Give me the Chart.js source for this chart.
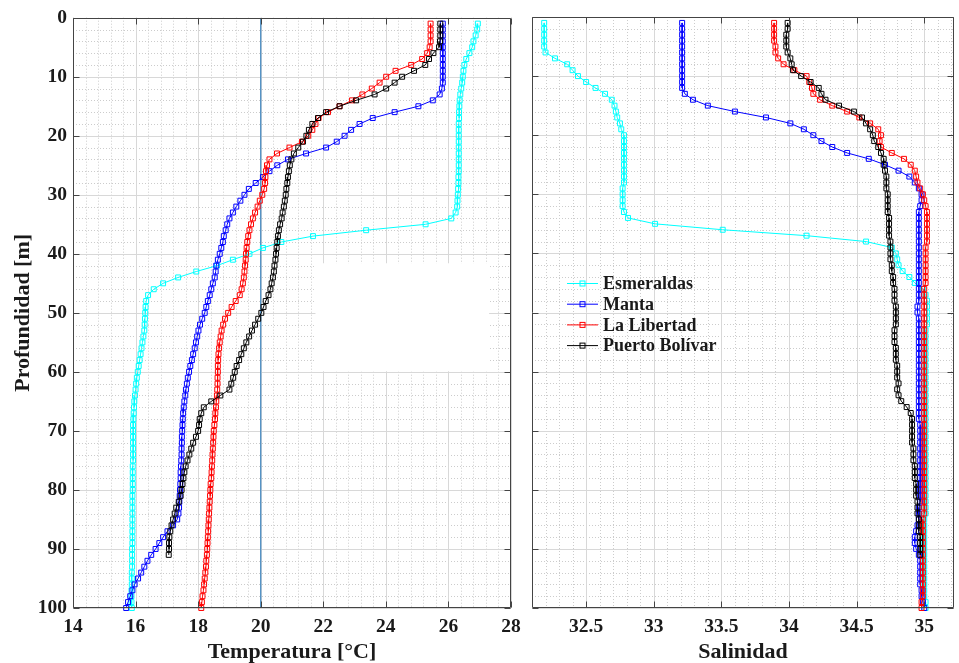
<!DOCTYPE html>
<html>
<head>
<meta charset="utf-8">
<script src="https://cdn.jsdelivr.net/npm/chart.js@4.4.1/dist/chart.umd.min.js"></script>
<style>
body { margin: 0; background: #fff; }
#wrap { position: relative; width: 959px; height: 663px; overflow: hidden; }
#cTemp { position: absolute; left: 0; top: 0; }
#cSal { position: absolute; left: 520px; top: 0; }
</style>
</head>
<body>
<div id="wrap">
  <canvas id="cTemp" width="530" height="663"></canvas>
  <canvas id="cSal" width="439" height="663"></canvas>
</div>
<script>
// profundidad de cada muestra (m)
let depth = [1,2,3,4,5,6,7,8,9,10,11,12,13,14,15,16,17,18,19,20,
  21,22,23,24,25,26,27,28,29,30,31,32,33,34,35,36,37,38,39,40,
  41,42,43,44,45,46,47,48,49,50,51,52,53,54,55,56,57,58,59,60,
  61,62,63,64,65,66,67,68,69,70,71,72,73,74,75,76,77,78,79,80,
  81,82,83,84,85,86,87,88,89,90,91,92,93,94,95,96,97,98,99,100]

let estaciones = ['Esmeraldas', 'Manta', 'La Libertad', 'Puerto Bolívar']

// temperatura (°C)
let tempEsmeraldas = [26.94,26.92,26.87,26.80,26.76,26.67,26.57,26.51,26.48,26.46,
  26.44,26.41,26.38,26.36,26.35,26.34,26.34,26.33,26.33,26.33,
  26.33,26.33,26.33,26.33,26.33,26.33,26.32,26.32,26.31,26.30,
  26.29,26.28,26.23,26.09,25.27,23.37,21.67,20.66,20.07,19.64,
  19.11,18.60,17.94,17.36,16.88,16.58,16.40,16.34,16.32,16.31,
  16.30,16.29,16.28,16.25,16.22,16.19,16.16,16.13,16.10,16.07,
  16.04,16.02,16.00,15.98,15.96,15.95,15.94,15.93,15.92,15.92,
  15.92,15.92,15.92,15.92,15.92,15.91,15.91,15.91,15.91,15.91,
  15.90,15.90,15.90,15.90,15.90,15.90,15.90,15.90,15.90,15.89,
  15.89,15.89,15.89,15.88,15.88,15.88,15.87,15.87,15.87,15.88]
let tempManta = [25.82,25.82,25.82,25.82,25.82,25.82,25.82,25.82,25.82,25.82,
  25.82,25.79,25.72,25.50,25.04,24.28,23.58,23.16,22.89,22.68,
  22.43,22.09,21.45,20.87,20.53,20.28,20.07,19.84,19.62,19.48,
  19.35,19.22,19.11,19.00,18.93,18.88,18.82,18.79,18.74,18.69,
  18.63,18.58,18.56,18.53,18.47,18.42,18.37,18.31,18.26,18.21,
  18.13,18.06,18.01,17.97,17.93,17.89,17.84,17.80,17.75,17.71,
  17.67,17.64,17.61,17.59,17.56,17.54,17.52,17.51,17.50,17.49,
  17.48,17.48,17.47,17.47,17.46,17.45,17.44,17.44,17.43,17.42,
  17.41,17.40,17.39,17.37,17.33,17.20,17.02,16.88,16.76,16.64,
  16.50,16.38,16.28,16.18,16.08,15.97,15.90,15.83,15.76,15.70]
let tempLibertad = [25.43,25.43,25.43,25.43,25.40,25.32,25.16,24.81,24.31,24.01,
  23.80,23.55,23.25,22.92,22.52,22.15,21.85,21.75,21.65,21.52,
  21.32,20.92,20.52,20.28,20.20,20.17,20.15,20.14,20.11,20.05,
  19.97,19.90,19.82,19.75,19.69,19.64,19.60,19.57,19.55,19.53,
  19.52,19.50,19.48,19.46,19.43,19.39,19.33,19.20,19.07,18.96,
  18.86,18.80,18.75,18.72,18.69,18.67,18.65,18.64,18.63,18.63,
  18.62,18.62,18.61,18.60,18.58,18.57,18.55,18.54,18.52,18.50,
  18.49,18.48,18.47,18.46,18.45,18.44,18.43,18.42,18.40,18.39,
  18.38,18.37,18.36,18.35,18.34,18.33,18.32,18.31,18.30,18.29,
  18.28,18.26,18.25,18.23,18.21,18.19,18.17,18.14,18.12,18.10]
let tempBolivar = [25.74,25.74,25.74,25.73,25.70,25.52,25.38,25.26,24.90,24.52,
  24.28,24.01,23.64,23.05,22.52,22.09,21.83,21.65,21.54,21.46,
  21.35,21.20,21.06,20.98,20.93,20.90,20.87,20.85,20.82,20.80,
  20.77,20.74,20.70,20.67,20.62,20.58,20.55,20.53,20.51,20.49,
  20.47,20.44,20.42,20.39,20.35,20.31,20.25,20.16,20.09,20.02,
  19.92,19.82,19.72,19.63,19.54,19.46,19.38,19.31,19.23,19.17,
  19.12,19.06,19.00,18.71,18.42,18.18,18.10,18.05,18.03,18.00,
  17.93,17.84,17.78,17.72,17.66,17.60,17.56,17.53,17.50,17.47,
  17.44,17.38,17.30,17.25,17.20,17.15,17.11,17.08,17.07,17.07,17.06]

// salinidad
let salEsmeraldas = [32.19,32.19,32.19,32.19,32.19,32.20,32.27,32.36,32.40,32.44,
  32.50,32.57,32.64,32.69,32.71,32.72,32.73,32.75,32.76,32.78,
  32.78,32.78,32.78,32.78,32.78,32.78,32.78,32.78,32.77,32.77,
  32.77,32.77,32.78,32.81,33.01,33.51,34.13,34.57,34.76,34.79,
  34.80,34.81,34.84,34.89,34.93,34.99,35.01,35.02,35.02,35.02,
  35.02,35.02,35.01,35.01,35.01,35.01,35.01,35.01,35.01,35.01,
  35.01,35.01,35.01,35.01,35.01,35.01,35.01,35.01,35.01,35.01,
  35.01,35.01,35.01,35.01,35.01,35.01,35.01,35.01,35.01,35.01,
  35.01,35.01,35.01,35.01,35.00,35.00,35.00,35.00,35.00,35.00,
  35.00,35.00,35.00,35.00,35.00,35.00,35.00,35.00,35.01,35.01]
let salManta = [33.21,33.21,33.21,33.21,33.21,33.21,33.21,33.21,33.21,33.21,
  33.21,33.21,33.23,33.29,33.40,33.60,33.83,34.01,34.11,34.18,
  34.24,34.32,34.43,34.59,34.71,34.81,34.89,34.93,34.96,34.98,
  34.98,34.97,34.96,34.96,34.96,34.96,34.96,34.96,34.96,34.96,
  34.96,34.96,34.96,34.96,34.96,34.96,34.96,34.96,34.95,34.95,
  34.96,34.96,34.96,34.96,34.96,34.96,34.96,34.96,34.96,34.96,
  34.96,34.96,34.96,34.96,34.96,34.96,34.96,34.96,34.97,34.97,
  34.97,34.97,34.97,34.97,34.97,34.97,34.97,34.97,34.97,34.97,
  34.97,34.97,34.96,34.96,34.96,34.95,34.94,34.93,34.93,34.94,
  34.96,34.97,34.97,34.97,34.97,34.97,34.98,34.98,34.99,35.00]
let salLibertad = [33.89,33.89,33.89,33.89,33.90,33.90,33.92,33.96,34.04,34.13,
  34.15,34.17,34.18,34.23,34.32,34.43,34.52,34.60,34.66,34.68,
  34.67,34.68,34.76,34.85,34.90,34.93,34.94,34.95,34.97,34.99,
  35.00,35.01,35.02,35.02,35.02,35.02,35.02,35.02,35.01,35.01,
  35.01,35.01,35.01,35.01,35.01,35.00,35.00,35.00,35.00,35.00,
  35.00,35.00,35.00,35.00,35.00,35.00,35.00,35.00,35.00,35.00,
  35.00,35.00,35.00,35.00,35.00,35.00,35.00,35.00,35.00,35.00,
  35.00,35.00,35.00,35.00,35.00,35.00,35.00,35.00,35.00,35.00,
  35.00,35.00,35.00,35.00,34.99,34.99,34.99,34.99,34.99,34.99,
  34.99,34.99,34.99,34.99,34.99,34.99,34.99,34.99,34.98,34.98]
let salBolivar = [33.99,33.99,33.98,33.98,33.98,33.99,34.01,34.02,34.03,34.09,
  34.16,34.22,34.24,34.27,34.37,34.48,34.54,34.57,34.60,34.62,
  34.63,34.66,34.68,34.70,34.70,34.71,34.72,34.72,34.72,34.73,
  34.73,34.73,34.73,34.74,34.74,34.74,34.74,34.75,34.75,34.75,
  34.75,34.76,34.76,34.77,34.77,34.78,34.78,34.78,34.79,34.79,
  34.79,34.79,34.78,34.78,34.78,34.79,34.79,34.79,34.80,34.80,
  34.80,34.81,34.80,34.81,34.83,34.87,34.90,34.91,34.91,34.91,
  34.91,34.91,34.92,34.92,34.92,34.93,34.93,34.93,34.94,34.94,
  34.94,34.95,34.95,34.95,34.96,34.96,34.96,34.97,34.97,34.97,34.97]

let lineaRef = [20, 20]      // linea vertical de 20 °C
let lineaRefProf = [0, 100]

let tempTicks = [14, 16, 18, 20, 22, 24, 26, 28]
let salTicks = [32.5, 33, 33.5, 34, 34.5, 35]
let depthTicks = [0, 10, 20, 30, 40, 50, 60, 70, 80, 90, 100]

let colores = ['#00ffff', '#0000ff', '#ff0000', '#000000']

const fuente = "'Liberation Serif', 'Times New Roman', serif"
const colTexto = '#1a1a1a'

function puntos(xs, ys) {
  return xs.map((v, i) => ({ x: v, y: ys[i] }))
}

function serie(i, valores) {
  return {
    label: estaciones[i],
    data: puntos(valores, depth),
    borderColor: colores[i],
    backgroundColor: 'rgba(0,0,0,0)',
    borderWidth: 1,
    pointStyle: 'rect',
    pointRadius: 3.5,
    pointBorderWidth: 1,
    pointBackgroundColor: 'rgba(0,0,0,0)',
    pointBorderColor: colores[i],
    tension: 0,
    clip: false,
    order: 3 - i,
  }
}

function pasos(a, b, step) {
  let out = []
  for (let v = a; v <= b + 1e-9; v += step) out.push(+v.toFixed(4))
  return out
}

// cuadricula estilo matlab + caja con ticks hacia adentro
function rejilla(xMinor, yMinor, parche) {
  return {
    id: 'rejilla',
    beforeDatasetsDraw(chart) {
      const { ctx, chartArea: a, scales: { x, y } } = chart
      ctx.save()
      ctx.lineWidth = 1
      ctx.strokeStyle = '#cccccc'
      ctx.setLineDash([1, 2])
      ctx.beginPath()
      xMinor.forEach(v => {
        let px = Math.round(x.getPixelForValue(v)) + 0.5
        ctx.moveTo(px, a.top); ctx.lineTo(px, a.bottom)
      })
      yMinor.forEach(v => {
        let py = Math.round(y.getPixelForValue(v)) + 0.5
        ctx.moveTo(a.left, py); ctx.lineTo(a.right, py)
      })
      ctx.stroke()
      ctx.setLineDash([])
      ctx.strokeStyle = '#d8d8d8'
      ctx.beginPath()
      x.ticks.forEach(t => {
        let px = Math.round(x.getPixelForValue(t.value)) + 0.5
        ctx.moveTo(px, a.top); ctx.lineTo(px, a.bottom)
      })
      y.ticks.forEach(t => {
        let py = Math.round(y.getPixelForValue(t.value)) + 0.5
        ctx.moveTo(a.left, py); ctx.lineTo(a.right, py)
      })
      ctx.stroke()
      if (parche) {
        let x0 = x.getPixelForValue(parche[0]), x1 = x.getPixelForValue(parche[1])
        let y0 = y.getPixelForValue(parche[2]), y1 = y.getPixelForValue(parche[3])
        ctx.fillStyle = '#fff'
        ctx.fillRect(x0, y0, x1 - x0, y1 - y0)
      }
      ctx.restore()
    },
    afterDraw(chart) {
      const { ctx, chartArea: a, scales: { x, y } } = chart
      ctx.save()
      ctx.strokeStyle = '#444'
      ctx.lineWidth = 1
      ctx.beginPath()
      const L = Math.round(a.left) + 0.5, R = Math.round(a.right) - 0.5
      const T = Math.round(a.top) + 0.5, B = Math.round(a.bottom) - 0.5
      ctx.rect(L, T, R - L, B - T)
      x.ticks.forEach(t => {
        let px = Math.round(x.getPixelForValue(t.value)) + 0.5
        ctx.moveTo(px, T); ctx.lineTo(px, T + 6)
        ctx.moveTo(px, B); ctx.lineTo(px, B - 6)
      })
      y.ticks.forEach(t => {
        let py = Math.round(y.getPixelForValue(t.value)) + 0.5
        ctx.moveTo(L, py); ctx.lineTo(L + 6, py)
        ctx.moveTo(R, py); ctx.lineTo(R - 6, py)
      })
      ctx.stroke()
      ctx.restore()
    }
  }
}

// leyenda dentro del panel de salinidad
const leyenda = {
  id: 'leyenda',
  afterDraw(chart) {
    const ctx = chart.ctx
    const x0 = 47, x1 = 78, xm = 62.5, xt = 83
    const filas = [283, 303.7, 324.4, 345.1]
    ctx.save()
    ctx.font = 'bold 18px ' + fuente
    ctx.textBaseline = 'middle'
    ctx.fillStyle = colTexto
    estaciones.forEach((nombre, i) => {
      let yy = filas[i] + 0.5
      ctx.strokeStyle = colores[i]
      ctx.lineWidth = 1
      ctx.beginPath()
      ctx.moveTo(x0, yy); ctx.lineTo(x1, yy)
      ctx.stroke()
      ctx.strokeRect(xm - 2.5, yy - 2.5, 5, 5)
      ctx.fillText(nombre, xt, yy + 1)
    })
    ctx.restore()
  }
}

function escala(vals, min, max, extra) {
  return Object.assign({
    type: 'linear',
    min: min,
    max: max,
    afterBuildTicks: s => { s.ticks = vals.map(v => ({ value: v })) },
    grid: { display: false, drawTicks: false },
    border: { display: false },
    ticks: {
      font: { family: fuente, size: 19.5, weight: 'bold' },
      color: colTexto,
      maxRotation: 0,
      autoSkip: false,
      padding: 7,
      callback: v => String(v),
    },
  }, extra)
}

let tituloFont = { family: fuente, size: 22, weight: 'bold', lineHeight: 0.95 }

new Chart(document.getElementById('cTemp'), {
  type: 'line',
  data: {
    datasets: [
      serie(0, tempEsmeraldas),
      serie(1, tempManta),
      serie(2, tempLibertad),
      Object.assign(serie(3, tempBolivar), { data: puntos(tempBolivar, depth.slice(0, tempBolivar.length)) }),
      {
        label: 'ref',
        data: puntos(lineaRef, lineaRefProf),
        borderColor: '#4a8cc2',
        borderWidth: 1.3,
        pointRadius: 0,
        order: 10,
      },
    ]
  },
  options: {
    responsive: false,
    animation: false,
    layout: { padding: { top: 17, right: 19, left: 0, bottom: 0 } },
    plugins: { legend: { display: false }, tooltip: { enabled: false } },
    scales: {
      x: escala(tempTicks, 14, 28, {
        position: 'bottom',
        afterFit: s => { s.height = 55 },
        title: { display: true, text: 'Temperatura [°C]', font: tituloFont, color: colTexto, padding: { top: 0, bottom: 0 } },
      }),
      y: escala(depthTicks, 0, 100, {
        reverse: true,
        position: 'left',
        afterFit: s => { s.width = 73 },
        title: { display: true, text: 'Profundidad [m]', font: tituloFont, color: colTexto, padding: { top: 13, bottom: 0 } },
      }),
    }
  },
  plugins: [rejilla(pasos(14, 28, 0.4), pasos(0, 100, 2), [21.75, 27.3, 41.6, 59.9])]
})
// ajustar padding de etiquetas del eje y
Chart.getChart('cTemp').options.scales.y.ticks.padding = 6
Chart.getChart('cTemp').update()

new Chart(document.getElementById('cSal'), {
  type: 'line',
  data: {
    datasets: [
      serie(0, salEsmeraldas),
      serie(1, salManta),
      serie(2, salLibertad),
      Object.assign(serie(3, salBolivar), { data: puntos(salBolivar, depth.slice(0, salBolivar.length)) }),
    ]
  },
  options: {
    responsive: false,
    animation: false,
    layout: { padding: { top: 17, right: 1, left: 0, bottom: 0 } },
    plugins: { legend: { display: false }, tooltip: { enabled: false } },
    scales: {
      x: escala(salTicks, 32.1, 35.22, {
        position: 'bottom',
        afterFit: s => { s.height = 55 },
        title: { display: true, text: 'Salinidad', font: tituloFont, color: colTexto, padding: { top: 0, bottom: 0 } },
      }),
      y: escala(depthTicks, 0, 100, {
        reverse: true,
        position: 'left',
        afterFit: s => { s.width = 12 },
        ticks: { display: false },
      }),
    }
  },
  plugins: [rejilla(pasos(32.1, 35.2, 0.1), pasos(0, 100, 2), null), leyenda]
})
</script>
</body>
</html>
